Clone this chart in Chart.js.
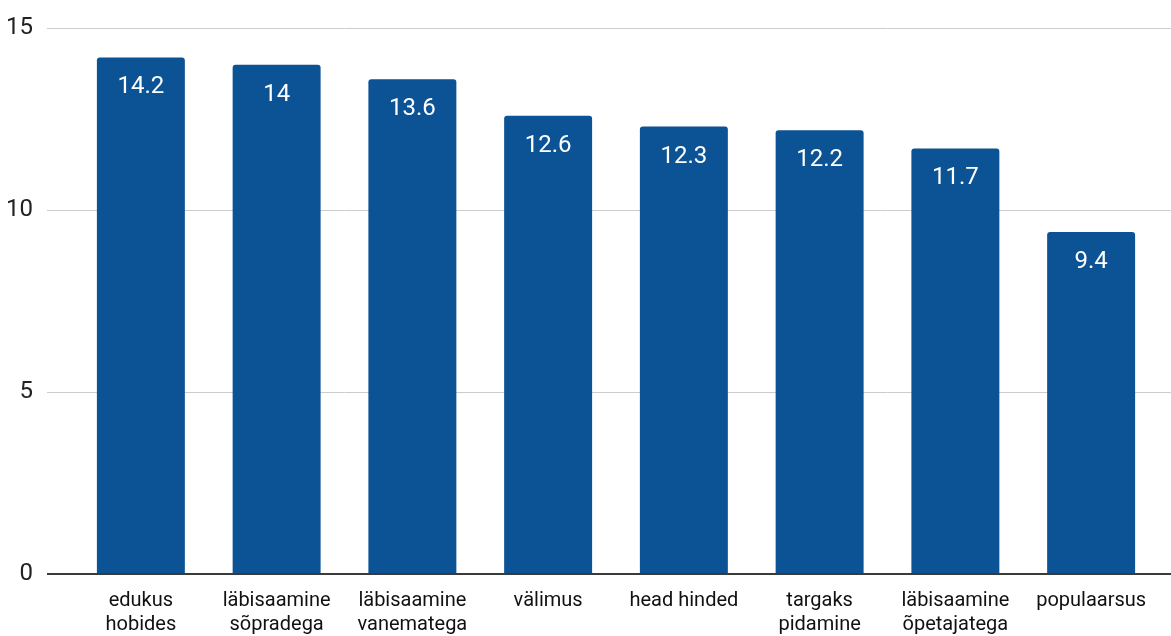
<!DOCTYPE html>
<html>
<head>
<meta charset="utf-8">
<script src="https://cdn.jsdelivr.net/npm/chart.js@4"></script>
<style>
  html, body { margin: 0; padding: 0; background: #fff; }
  #wrap { width: 1171px; height: 636px; position: relative; }
</style>
</head>
<body>
<div id="wrap"><canvas id="c"></canvas></div>
<script>
const categories = [
  ['edukus', 'hobides'],
  ['läbisaamine', 'sõpradega'],
  ['läbisaamine', 'vanematega'],
  'välimus',
  'head hinded',
  ['targaks', 'pidamine'],
  ['läbisaamine', 'õpetajatega'],
  'populaarsus'
];
const values = [14.2, 14, 13.6, 12.6, 12.3, 12.2, 11.7, 9.4];
const valueLabels = ['14.2', '14', '13.6', '12.6', '12.3', '12.2', '11.7', '9.4'];
const yMin = 0, yMax = 15, yStep = 5;

const BAR = '#0b5394';
const gridColor = (c) => (c.tick && c.tick.value === 0) ? '#3a3a3a' : '#cccccc';
const gridWidth = (c) => (c.tick && c.tick.value === 0) ? 2 : 1;

const barLabels = {
  id: 'barLabels',
  afterDatasetsDraw(chart) {
    const ctx = chart.ctx;
    const meta = chart.getDatasetMeta(0);
    ctx.save();
    ctx.font = '24px Roboto';
    ctx.fillStyle = '#ffffff';
    ctx.textAlign = 'center';
    ctx.textBaseline = 'alphabetic';
    meta.data.forEach((bar, i) => {
      ctx.fillText(valueLabels[i], bar.x, bar.y + 36);
    });
    ctx.restore();
  }
};

new Chart(document.getElementById('c'), {
  type: 'bar',
  data: {
    labels: categories,
    datasets: [{
      data: values,
      backgroundColor: BAR,
      borderWidth: 0,
      borderRadius: { topLeft: 3, topRight: 3, bottomLeft: 0, bottomRight: 0 },
      borderSkipped: 'start',
      barPercentage: 0.648,
      categoryPercentage: 1.0,
      yAxisID: 'y'
    }]
  },
  options: {
    responsive: true,
    maintainAspectRatio: false,
    animation: false,
    devicePixelRatio: 1,
    layout: { padding: { top: 26, left: 0, right: 0, bottom: 0 } },
    plugins: {
      legend: { display: false },
      tooltip: { enabled: false },
      title: { display: false }
    },
    scales: {
      x: {
        offset: true,
        grid: { display: false, drawTicks: false },
        border: { display: false },
        ticks: {
          color: '#111',
          font: { family: 'Roboto', size: 20, lineHeight: 1.2 },
          padding: 15,
          maxRotation: 0,
          autoSkip: false
        },
        afterFit(s) { s.height = 62; }
      },
      y: {
        position: 'left',
        min: yMin, max: yMax,
        ticks: {
          stepSize: yStep,
          color: '#222',
          font: { family: 'Roboto', size: 24 },
          padding: 14
        },
        grid: { color: gridColor, lineWidth: gridWidth, tickLength: 26, drawTicks: true },
        border: { display: false },
        afterFit(s) { s.width = 73; }
      },
      y2: {
        position: 'right',
        min: yMin, max: yMax,
        ticks: { stepSize: yStep, display: false },
        grid: { color: gridColor, lineWidth: gridWidth, tickLength: 12, drawTicks: true, drawOnChartArea: false },
        border: { display: false },
        afterFit(s) { s.width = 12; }
      }
    }
  },
  plugins: [barLabels]
});
</script>
</body>
</html>
